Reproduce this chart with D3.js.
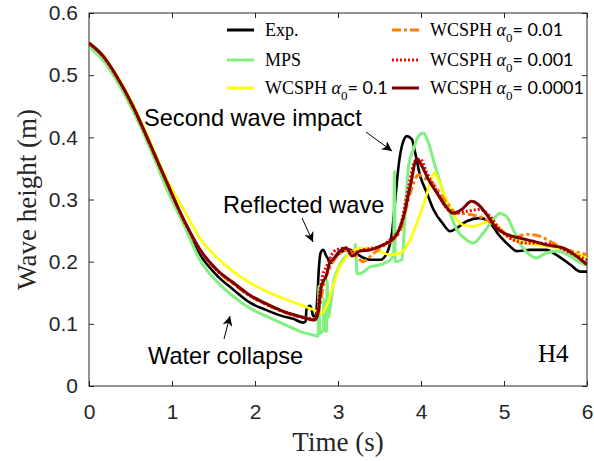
<!DOCTYPE html>
<html><head><meta charset="utf-8">
<script src="https://cdn.jsdelivr.net/npm/d3@7"></script>
<style>body{margin:0;background:#fff}svg{display:block}</style>
</head><body>
<script>
// ---------- data ----------
const xTicks = [0,1,2,3,4,5,6];
const yTicks = [0,0.1,0.2,0.3,0.4,0.5,0.6];

const expT = [0,0.17,0.33,0.53,0.73,0.94,1.14,1.34,1.54,1.74,1.94,2.14,2.34,2.46,2.58,2.61,2.62,2.66,2.68,2.70,2.73,2.75,2.77,2.79,2.82,2.86,2.92,2.98,3.06,3.14,3.22,3.31,3.39,3.51,3.59,3.65,3.69,3.73,3.78,3.83,3.89,3.93,3.99,4.07,4.15,4.27,4.35,4.43,4.55,4.71,4.81,4.95,5.07,5.15,5.31,5.51,5.63,5.80,5.92,6.0];
const expH = [0.549,0.527,0.495,0.445,0.389,0.321,0.265,0.211,0.178,0.155,0.134,0.122,0.112,0.108,0.102,0.104,0.123,0.129,0.125,0.113,0.112,0.14,0.19,0.214,0.219,0.209,0.198,0.209,0.217,0.219,0.213,0.206,0.203,0.203,0.214,0.246,0.30,0.354,0.391,0.402,0.397,0.375,0.338,0.311,0.284,0.26,0.249,0.254,0.265,0.27,0.265,0.241,0.225,0.217,0.219,0.219,0.211,0.195,0.184,0.184];

const mpsT = [0,0.17,0.33,0.53,0.73,0.94,1.14,1.34,1.54,1.74,1.94,2.14,2.34,2.54,2.70,2.76,2.77,2.78,2.82,2.83,2.84,2.86,2.87,2.88,2.92,2.95,2.98,3.04,3.10,3.18,3.20,3.21,3.23,3.29,3.39,3.51,3.63,3.67,3.68,3.69,3.77,3.81,3.85,3.91,3.97,4.03,4.09,4.17,4.27,4.35,4.43,4.55,4.63,4.75,4.87,4.95,5.03,5.11,5.19,5.31,5.39,5.51,5.63,5.80,5.92,6.0];
const mpsH = [0.545,0.524,0.492,0.443,0.384,0.316,0.26,0.202,0.168,0.144,0.125,0.112,0.100,0.088,0.082,0.080,0.16,0.085,0.09,0.14,0.09,0.088,0.17,0.11,0.14,0.17,0.182,0.20,0.209,0.215,0.21,0.228,0.18,0.182,0.192,0.195,0.203,0.21,0.345,0.20,0.203,0.28,0.354,0.381,0.402,0.407,0.391,0.354,0.311,0.278,0.252,0.235,0.23,0.246,0.268,0.278,0.273,0.252,0.23,0.211,0.206,0.214,0.217,0.209,0.198,0.195];

const a1T = [0,0.17,0.33,0.53,0.73,0.94,1.14,1.34,1.54,1.74,1.94,2.14,2.34,2.54,2.70,2.80,2.86,2.94,3.02,3.10,3.18,3.26,3.39,3.51,3.63,3.75,3.85,3.95,4.05,4.11,4.16,4.21,4.29,4.39,4.49,4.63,4.75,4.83,4.95,5.11,5.27,5.51,5.76,6.0];
const a1H = [0.552,0.532,0.501,0.453,0.395,0.332,0.284,0.237,0.207,0.184,0.166,0.152,0.141,0.131,0.123,0.117,0.128,0.16,0.192,0.207,0.217,0.222,0.222,0.216,0.211,0.214,0.230,0.262,0.30,0.327,0.343,0.332,0.305,0.276,0.26,0.257,0.262,0.265,0.254,0.235,0.23,0.225,0.219,0.205];

const a01T = [0,0.17,0.33,0.53,0.73,0.94,1.14,1.34,1.54,1.74,1.94,2.14,2.34,2.54,2.72,2.78,2.84,2.90,3.00,3.10,3.20,3.30,3.40,3.51,3.63,3.75,3.87,3.97,4.03,4.11,4.31,4.43,4.59,4.75,4.91,5.11,5.27,5.43,5.59,5.76,5.92,6.0];
const a01H = [0.551,0.530,0.498,0.449,0.390,0.326,0.267,0.218,0.186,0.164,0.145,0.131,0.119,0.111,0.108,0.13,0.17,0.19,0.21,0.218,0.212,0.20,0.21,0.222,0.232,0.25,0.31,0.34,0.335,0.33,0.295,0.278,0.276,0.27,0.257,0.238,0.244,0.241,0.23,0.219,0.214,0.211];

const a001T = [0,0.17,0.33,0.53,0.73,0.94,1.14,1.34,1.54,1.74,1.94,2.14,2.34,2.54,2.70,2.74,2.78,2.82,2.86,2.92,2.98,3.10,3.20,3.30,3.51,3.63,3.75,3.85,3.93,3.99,4.07,4.19,4.29,4.39,4.55,4.71,4.83,4.95,5.11,5.27,5.43,5.63,5.80,6.0];
const a001H = [0.551,0.530,0.498,0.449,0.390,0.326,0.267,0.218,0.186,0.165,0.145,0.131,0.120,0.111,0.108,0.112,0.15,0.18,0.192,0.21,0.219,0.222,0.215,0.219,0.225,0.236,0.257,0.32,0.362,0.365,0.343,0.313,0.289,0.278,0.281,0.284,0.273,0.252,0.235,0.23,0.23,0.225,0.214,0.203];

const a0001T = [0,0.17,0.33,0.53,0.73,0.94,1.14,1.34,1.54,1.74,1.94,2.14,2.34,2.54,2.72,2.76,2.80,2.86,2.90,2.95,3.00,3.10,3.17,3.26,3.39,3.51,3.63,3.71,3.79,3.87,3.95,4.01,4.09,4.19,4.31,4.39,4.49,4.61,4.69,4.79,4.91,5.03,5.19,5.35,5.51,5.71,5.87,6.0];
const a0001H = [0.552,0.531,0.499,0.450,0.391,0.327,0.268,0.219,0.187,0.166,0.146,0.132,0.120,0.112,0.106,0.117,0.160,0.178,0.198,0.205,0.214,0.222,0.209,0.217,0.219,0.225,0.233,0.244,0.273,0.321,0.365,0.354,0.332,0.311,0.287,0.278,0.284,0.297,0.292,0.276,0.254,0.244,0.238,0.233,0.227,0.222,0.209,0.195];

const seriesNames = ["Exp.","MPS","0.1","0.01","0.001","0.0001"];
const seriesColors = ["#000000","#80f080","#ffff00","#ff8000","#ff0000","#800000"];

// ---------- layout ----------
const W = 594, H = 461;
const L = 89, R = 587, T = 13, B = 386;
const svg = d3.select("body").append("svg").attr("width", W).attr("height", H);
svg.append("rect").attr("width", W).attr("height", H).attr("fill", "#fff");

const x = d3.scaleLinear().domain([0,6]).range([L,R]);
const y = d3.scaleLinear().domain([0,0.6]).range([B,T]);
const axisColor = "#262626";
const sans = "'Liberation Sans', Arial, sans-serif";
const serif = "'Liberation Serif', 'Times New Roman', serif";

function styleAxis(g){
  g.select(".domain").remove();
  g.selectAll(".tick line").attr("stroke", axisColor);
  g.selectAll(".tick text").attr("fill", axisColor).attr("font-family", sans).attr("font-size", 21);
}
svg.append("g").attr("transform", `translate(0,${B})`)
  .call(d3.axisBottom(x).tickValues(xTicks).tickFormat(d3.format("d")).tickSizeInner(-5).tickSizeOuter(0).tickPadding(18))
  .call(styleAxis);
svg.append("g").attr("transform", `translate(0,${T})`)
  .call(d3.axisTop(x).tickValues(xTicks).tickFormat("").tickSizeInner(-5).tickSizeOuter(0))
  .call(styleAxis);
svg.append("g").attr("transform", `translate(${L},0)`)
  .call(d3.axisLeft(y).tickValues(yTicks).tickFormat(d => d === 0 ? "0" : d3.format(".1f")(d)).tickSizeInner(-5).tickSizeOuter(0).tickPadding(11))
  .call(styleAxis);
svg.append("g").attr("transform", `translate(${R},0)`)
  .call(d3.axisRight(y).tickValues(yTicks).tickFormat("").tickSizeInner(-5).tickSizeOuter(0))
  .call(styleAxis);
svg.append("rect").attr("x", L).attr("y", T).attr("width", R-L).attr("height", B-T)
  .attr("fill","none").attr("stroke", axisColor).attr("stroke-width", 1);

// ---------- lines ----------
svg.append("clipPath").attr("id","clip").append("rect")
  .attr("x", L).attr("y", T).attr("width", R-L).attr("height", B-T);
const line = d3.line().x(d => x(d[0])).y(d => y(d[1])).curve(d3.curveMonotoneX);
const zip = (a,b) => a.map((v,i) => [v,b[i]]);
const series = [
  {pts: zip(expT,expH), color: seriesColors[0], w: 2.6, dash: null},
  {pts: zip(mpsT,mpsH), color: seriesColors[1], w: 3, dash: null},
  {pts: zip(a1T,a1H), color: seriesColors[2], w: 2.6, dash: null},
  {pts: zip(a01T,a01H), color: seriesColors[3], w: 3, dash: "9,3,3,3"},
  {pts: zip(a001T,a001H), color: seriesColors[4], w: 3, dash: "2,2"},
  {pts: zip(a0001T,a0001H), color: seriesColors[5], w: 3, dash: null}
];
const gl = svg.append("g").attr("clip-path","url(#clip)");
series.forEach(s => {
  gl.append("path").attr("d", line(s.pts)).attr("fill","none")
    .attr("stroke", s.color).attr("stroke-width", s.w)
    .attr("stroke-linejoin","round")
    .attr("stroke-dasharray", s.dash);
});

// ---------- legend ----------
const legCols = [{lx: 227, tx: 265}, {lx: 392, tx: 430}];
const legRows = [30, 60, 88];
seriesNames.forEach((name, i) => {
  const c = legCols[Math.floor(i/3)], ry = legRows[i%3];
  const s = series[i];
  svg.append("line").attr("x1", c.lx).attr("x2", c.lx+27).attr("y1", ry).attr("y2", ry)
    .attr("stroke", s.color).attr("stroke-width", 3).attr("stroke-dasharray", s.dash);
  const t = svg.append("text").attr("x", c.tx).attr("y", ry+6)
    .attr("font-family", serif).attr("font-size", 18).attr("fill", "#000");
  if (i < 2) { t.text(name); }
  else {
    t.append("tspan").text("WCSPH ");
    t.append("tspan").attr("font-style","italic").text("α");
    t.append("tspan").attr("font-size", 13).attr("dy", 6).text("0");
    t.append("tspan").attr("dy", -6).attr("font-family", "Lato, sans-serif").text("= " + name);
  }
});

// ---------- annotations ----------
const defs = svg.append("defs");
defs.append("marker").attr("id","arr").attr("viewBox","0 0 10 10").attr("refX",10).attr("refY",5)
  .attr("markerWidth",10).attr("markerHeight",10).attr("markerUnits","userSpaceOnUse").attr("orient","auto")
  .append("path").attr("d","M0,0 L10,5 L0,10 L3,5 Z").attr("fill","#000");
const notes = [
  {text: "Second wave impact", tx: 144, ty: 126, a: [366,132,392,151]},
  {text: "Reflected wave", tx: 223, ty: 213, a: [302,218,313,242]},
  {text: "Water collapse", tx: 148, ty: 364, a: [224,339,230,316]}
];
notes.forEach(n => {
  svg.append("text").attr("x", n.tx).attr("y", n.ty).attr("font-family", sans)
    .attr("font-size", 23.6).attr("fill","#000").text(n.text);
  svg.append("line").attr("x1", n.a[0]).attr("y1", n.a[1]).attr("x2", n.a[2]).attr("y2", n.a[3])
    .attr("stroke","#000").attr("stroke-width",1).attr("marker-end","url(#arr)");
});

svg.append("text").attr("x", 538).attr("y", 362).attr("font-family", serif)
  .attr("font-size", 25).attr("fill","#000").text("H4");

// ---------- axis labels ----------
svg.append("text").attr("x", (L+R)/2).attr("y", 451).attr("text-anchor","middle")
  .attr("font-family", serif).attr("font-size", 27).attr("fill", axisColor).text("Time (s)");
svg.append("text").attr("transform", `translate(36,${(T+B)/2}) rotate(-90)`).attr("text-anchor","middle")
  .attr("font-family", serif).attr("font-size", 27).attr("fill", axisColor).text("Wave height (m)");
</script>
</body></html>
